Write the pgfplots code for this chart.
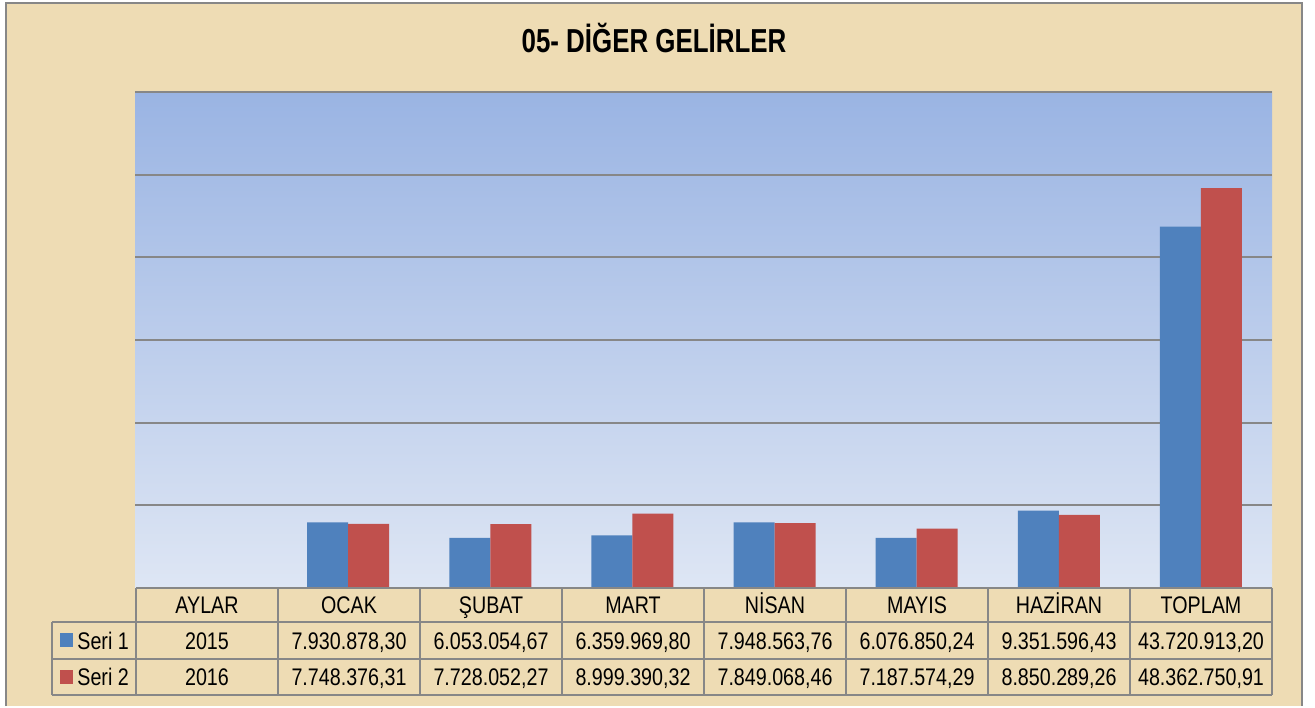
\documentclass[border=0pt]{standalone}
\usepackage{pgfplots}
\pgfplotsset{compat=1.18}
\usepackage{fontspec}
\setmainfont{Liberation Sans}[FakeStretch=0.78]
\newfontfamily\tabfont{Liberation Sans}[FakeStretch=0.82]
\definecolor{sblue}{HTML}{4F81BD}
\definecolor{sred}{HTML}{C0504D}
\definecolor{parch}{HTML}{EEDCB4}
\definecolor{gridc}{HTML}{878787}
\definecolor{bgtop}{HTML}{9AB4E3}
\definecolor{bgbot}{HTML}{DEE6F4}
% values in millions
\pgfplotstableread{
x y
0 0.002015
1 7.93087830
2 6.05305467
3 6.35996980
4 7.94856376
5 6.07685024
6 9.35159643
7 43.72091320
}\serione
\pgfplotstableread{
x y
0 0.002016
1 7.74837631
2 7.72805227
3 8.99939032
4 7.84906846
5 7.18757429
6 8.85028926
7 48.36275091
}\seritwo
\begin{document}
\begin{tikzpicture}
\begin{scope}[x=0.5pt,y=-0.5pt,yshift=353pt]
\fill[white] (0,0) rectangle (1315,706);
\fill[parch] (6,3) rectangle (1302,706);
\draw[gridc,line width=1pt] (6,706) -- (6,3) -- (1302,3) -- (1302,706);
\node[font=\fontsize{16.6}{20}\selectfont\bfseries,inner sep=0pt,anchor=base] at (654,52.5) {05- DİĞER GELİRLER};
\end{scope}
\begin{axis}[at={(67.5pt,59pt)},anchor=south west,scale only axis,
  width=568.5pt,height=248pt,
  xmin=-0.5,xmax=7.5,ymin=0,ymax=60,
  ytick={10,20,30,40,50,60},yticklabels={},xtick=\empty,
  major tick length=0pt,
  ymajorgrids,grid style={gridc,line width=1pt},
  axis line style={draw=none},
  axis background/.style={top color=bgtop,bottom color=bgbot},
  ybar=0pt,bar width=20.5pt,clip=false]
\addplot[fill=sblue,draw=none] table[x=x,y=y] {\serione};
\addplot[fill=sred,draw=none] table[x=x,y=y] {\seritwo};
\end{axis}
\begin{scope}[x=0.5pt,y=-0.5pt,yshift=353pt]
\begin{scope}[gridc,line width=1pt]
\draw (136,588) -- (1272,588);
\draw (52,622) -- (1272,622);
\draw (52,659) -- (1272,659);
\draw (52,695) -- (1272,695);
\draw (52,622) -- (52,695);
\foreach \c in {136,278,420,562,704,846,988,1130,1272}{\draw (\c,588) -- (\c,695);}
\end{scope}
\fill[sblue] (60,633) rectangle (73,647);
\fill[sred] (60,670) rectangle (73,684);
\begin{scope}[every node/.style={font=\tabfont\fontsize{12}{14}\selectfont,inner sep=0pt,anchor=base}]
\node[anchor=base west] at (77,649) {Seri 1};
\node[anchor=base west] at (77,685) {Seri 2};
\foreach \i/\h/\a/\b in {0/AYLAR/2015/2016,
  1/OCAK/{7.930.878,30}/{7.748.376,31},
  2/ŞUBAT/{6.053.054,67}/{7.728.052,27},
  3/MART/{6.359.969,80}/{8.999.390,32},
  4/NİSAN/{7.948.563,76}/{7.849.068,46},
  5/MAYIS/{6.076.850,24}/{7.187.574,29},
  6/HAZİRAN/{9.351.596,43}/{8.850.289,26},
  7/TOPLAM/{43.720.913,20}/{48.362.750,91}}{
  \node at ({207+142*\i},613) {\h};
  \node at ({207+142*\i},649) {\a};
  \node at ({207+142*\i},685) {\b};
}
\end{scope}
\end{scope}
\end{tikzpicture}
\end{document}
